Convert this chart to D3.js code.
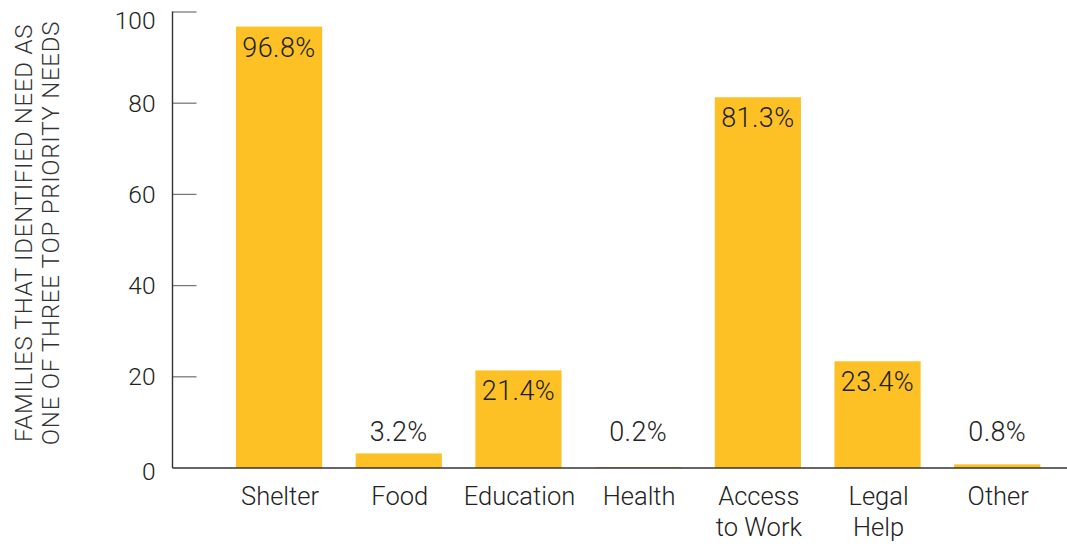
<!DOCTYPE html>
<html>
<head>
<meta charset="utf-8">
<script src="https://cdn.jsdelivr.net/npm/d3@7"></script>
<style>
  html, body { margin: 0; padding: 0; background: #fff; }
  svg { display: block; font-family: Roboto, "Liberation Sans", Arial, Helvetica, sans-serif; font-weight: 300; }
</style>
</head>
<body>
<svg id="chart" width="1067" height="548"></svg>
<script>
const categories = ["Shelter", "Food", "Education", "Health", "Access to Work", "Legal Help", "Other"];
const categoryLines = [["Shelter"], ["Food"], ["Education"], ["Health"], ["Access", "to Work"], ["Legal", "Help"], ["Other"]];
const values = [96.8, 3.2, 21.4, 0.2, 81.3, 23.4, 0.8];
const valueLabels = ["96.8%", "3.2%", "21.4%", "0.2%", "81.3%", "23.4%", "0.8%"];
const yTicks = [0, 20, 40, 60, 80, 100];
const yTitle = ["FAMILIES THAT IDENTIFIED NEED AS", "ONE OF THREE TOP PRIORITY NEEDS"];

const svg = d3.select("#chart");
const barColor = "#FDC125";
const textColor = "#222";

const axisX = 172.5;
const x = d3.scaleBand()
  .domain(categories)
  .range([219.2, 1057.1])
  .paddingInner(0.28)
  .paddingOuter(0.14);

const y = d3.scaleLinear().domain([0, 100]).range([468, 12]);

// y ticks (pointing inward)
const tickG = svg.append("g");
tickG.selectAll("line.tick").data(yTicks.filter(d => d > 0)).join("line")
  .attr("x1", axisX).attr("x2", axisX + 24)
  .attr("y1", d => y(d)).attr("y2", d => y(d))
  .attr("stroke", "#7a7a7a").attr("stroke-width", 1.3);

tickG.selectAll("text.tl").data(yTicks).join("text")
  .attr("class", "tl")
  .attr("x", 155.5)
  .attr("y", d => Math.max(y(d), 20) + (d === 0 ? 3 : 0))
  .attr("dy", "0.35em")
  .attr("text-anchor", "end")
  .attr("fill", textColor)
  .attr("font-size", 24.5)
  .text(d => d);

// bars
svg.append("g").selectAll("rect").data(categories).join("rect")
  .attr("x", d => x(d))
  .attr("width", x.bandwidth())
  .attr("y", (d, i) => y(values[i]))
  .attr("height", (d, i) => y(0) - y(values[i]))
  .attr("fill", barColor);

// value labels
svg.append("g").selectAll("text").data(categories).join("text")
  .attr("x", d => x(d) + x.bandwidth() / 2)
  .attr("y", (d, i) => values[i] > 10 ? y(values[i]) + 30 : y(0) - 27)
  .attr("text-anchor", "middle")
  .attr("fill", textColor)
  .attr("font-size", 27)
  .attr("letter-spacing", 0.4)
  .text((d, i) => valueLabels[i]);

// axes lines
svg.append("line")
  .attr("x1", axisX).attr("x2", axisX)
  .attr("y1", y(100) - 0.5).attr("y2", y(0))
  .attr("stroke", "#333").attr("stroke-width", 1.4);
svg.append("line")
  .attr("x1", axisX).attr("x2", 1067)
  .attr("y1", y(0)).attr("y2", y(0))
  .attr("stroke", "#333").attr("stroke-width", 1.4);

// category labels
const catG = svg.append("g").selectAll("text").data(categories).join("text")
  .attr("x", d => x(d) + x.bandwidth() / 2 + 1)
  .attr("y", 505)
  .attr("text-anchor", "middle")
  .attr("fill", textColor)
  .attr("font-size", 25.5);
catG.each(function(d, i) {
  const t = d3.select(this);
  const cx = x(d) + x.bandwidth() / 2 + 1;
  categoryLines[i].forEach((line, j) => {
    t.append("tspan").attr("x", cx).attr("dy", j === 0 ? 0 : 31).text(line);
  });
});

// y title
const titleG = svg.append("g").attr("transform", "translate(0,233) rotate(-90)");
titleG.selectAll("text").data(yTitle).join("text")
  .attr("x", 0)
  .attr("y", (d, i) => i === 0 ? 32 : 58.5)
  .attr("text-anchor", "middle")
  .attr("fill", "#333")
  .attr("font-size", 24)
  .attr("letter-spacing", 0.75)
  .text(d => d);
</script>
</body>
</html>
